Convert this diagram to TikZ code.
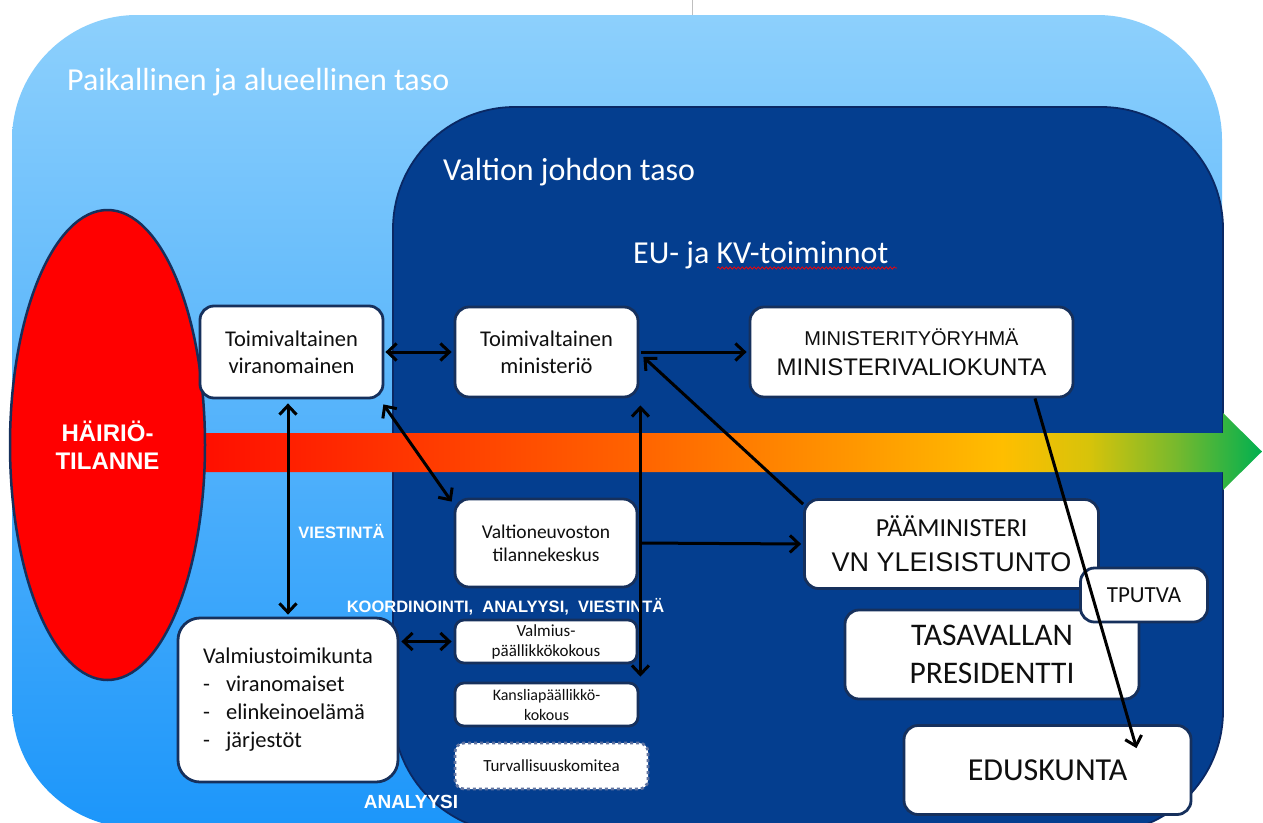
\documentclass[tikz,border=0pt]{standalone}
\usepackage{fontspec}
\setmainfont{Carlito}
\newfontfamily\arialf{Liberation Sans}
\usetikzlibrary{arrows.meta,decorations.pathmorphing,shapes.geometric}

\definecolor{lbtop}{RGB}{141,208,252}
\definecolor{lbmid}{RGB}{95,182,253}
\definecolor{lbbot}{RGB}{28,150,250}
\definecolor{dkblue}{RGB}{4,62,143}
\definecolor{dkedge}{RGB}{10,40,100}
\definecolor{boxedge}{RGB}{22,48,92}
\definecolor{txt}{RGB}{15,15,15}
\definecolor{ba}{RGB}{255,0,0}
\definecolor{bb}{RGB}{255,15,0}
\definecolor{bc}{RGB}{255,100,0}
\definecolor{bd}{RGB}{255,150,0}
\definecolor{be}{RGB}{255,190,0}
\definecolor{bf}{RGB}{215,195,10}
\definecolor{bg}{RGB}{120,185,45}
\definecolor{bh}{RGB}{0,176,80}
\pgfdeclarehorizontalshading{barshade}{100bp}{color(0bp)=(ba); color(25bp)=(ba); color(26.2bp)=(bb); color(46.3bp)=(bc); color(56bp)=(bd); color(63bp)=(be); color(67bp)=(bf); color(71bp)=(bg); color(75bp)=(bh); color(100bp)=(bh)}

\tikzset{
  box/.style={draw=boxedge, line width=2.8pt, fill=white, rounded corners=14pt,
    align=center, inner sep=0pt, text=txt},
  conn/.style={line width=3pt, draw=black,
    {Straight Barb[length=9pt,width=17pt]}-{Straight Barb[length=9pt,width=17pt]}},
  conn1/.style={line width=3pt, draw=black, -{Straight Barb[length=9pt,width=17pt]}},
  lab/.style={text=white, inner sep=0pt, anchor=base,
    font=\arialf\bfseries\fontsize{16.5pt}{19pt}\selectfont},
  ttl/.style={text=white, inner sep=0pt, anchor=base west,
    font=\fontsize{32pt}{38pt}\selectfont},
}

\begin{document}
\begin{tikzpicture}[x=1pt,y=-1pt]
\useasboundingbox (0,0) rectangle (1263,822);
\clip (0,0) rectangle (1263,822);
\fill[white] (0,0) rectangle (1263,822);
\draw[black!25, line width=0.8pt] (692,0) -- (692,15);

% outer level
\shade[top color=lbtop, middle color=lbmid, bottom color=lbbot, rounded corners=125pt]
  (12,15) rectangle (1222,828);
% inner level
\draw[fill=dkblue, draw=dkedge, line width=1.8pt, rounded corners=122pt]
  (393,107) rectangle (1223,833);

% titles
\node[ttl] (t1) at (67,90) {Paikallinen ja alueellinen taso};
\node[ttl] (t2) at (443,180) {Valtion johdon taso};
\node[ttl] (t3) at (633,263) {EU- ja KV-toiminnot};
\draw[red, line width=0.7pt, decorate, decoration={snake, amplitude=1.2pt, segment length=4pt}]
  (717,268) -- (897,268);

% big arrow
\shade[shading=barshade] (180,433) -- (1223,433) -- (1223,413) -- (1262,451.5)
  -- (1223,490) -- (1223,472) -- (180,472) -- cycle;

% ellipse
\node[ellipse, draw=boxedge, line width=2.5pt, fill=red, minimum width=195pt,
  minimum height=470pt, inner sep=0pt, text=white, align=center,
  font=\arialf\bfseries\fontsize{24pt}{28pt}\selectfont] (hairio) at (107.5,445) {HÄIRIÖ-\\TILANNE};

% boxes
\node[box, minimum width=183pt, minimum height=92pt, font=\fontsize{22.5pt}{27pt}\selectfont]
  (vir) at (291.5,352) {Toimivaltainen\\viranomainen};
\node[box, minimum width=183pt, minimum height=90pt, font=\fontsize{22.5pt}{27pt}\selectfont]
  (min) at (546.5,352) {Toimivaltainen\\ministeriö};
\node[box, minimum width=323pt, minimum height=90pt, font=\arialf\fontsize{24pt}{30pt}\selectfont]
  (mtr) at (911.5,352) {{\fontsize{20pt}{30pt}\selectfont MINISTERITYÖRYHMÄ}\\MINISTERIVALIOKUNTA};
\node[box, minimum width=182pt, minimum height=88pt, font=\fontsize{19.5pt}{23pt}\selectfont]
  (tk) at (546,543) {Valtioneuvoston\\tilannekeskus};
\node[box, minimum width=294pt, minimum height=89pt, font=\fontsize{26pt}{35pt}\selectfont]
  (pm) at (951.5,544) {PÄÄMINISTERI\\{\arialf\fontsize{27pt}{35pt}\selectfont VN YLEISISTUNTO}};
\node[box, minimum width=294pt, minimum height=89pt, font=\fontsize{31.5pt}{38pt}\selectfont]
  (tp) at (992,654.5) {TASAVALLAN\\PRESIDENTTI};
\node[box, minimum width=287pt, minimum height=89pt, font=\fontsize{32pt}{38pt}\selectfont]
  (edu) at (1047.5,770) {EDUSKUNTA};
\node[box, minimum width=127pt, minimum height=54pt, font=\fontsize{23pt}{27pt}\selectfont]
  (tputva) at (1144,595) {TPUTVA};
\node[box, align=left, minimum width=220pt, minimum height=164pt, rounded corners=22pt,
  font=\fontsize{22.5pt}{28pt}\selectfont]
  (vtk) at (288,700) {Valmiustoimikunta\\\makebox[23pt][l]{-}viranomaiset\\\makebox[23pt][l]{-}elinkeinoelämä\\\makebox[23pt][l]{-}järjestöt};
\node[box, minimum width=182pt, minimum height=43pt, rounded corners=9pt, font=\fontsize{17pt}{20pt}\selectfont]
  (vpk) at (546,641.5) {Valmius-\\päällikkökokous};
\node[box, minimum width=183pt, minimum height=43pt, rounded corners=9pt, font=\fontsize{16pt}{20pt}\selectfont]
  (kpk) at (546.5,704.5) {Kansliapäällikkö-\\kokous};
\node[box, draw={rgb,255:red,95;green,115;blue,160}, dash pattern=on 3pt off 3pt,
  minimum width=193pt, minimum height=46pt, rounded corners=9pt, font=\fontsize{17pt}{20pt}\selectfont]
  (turv) at (551.5,766) {Turvallisuuskomitea};

% labels
\node[lab] (l1) at (341.5,538) {VIESTINTÄ};
\node[lab] (l2) at (505.5,612) {KOORDINOINTI,\ \ ANALYYSI,\ \ VIESTINTÄ};
\node[lab, font=\arialf\bfseries\fontsize{19pt}{22pt}\selectfont] (l3) at (411,808) {ANALYYSI};

% connectors
\draw[conn, shorten <=1pt, shorten >=2pt] (vir.east) -- (min.west);
\draw[conn] ([shift={(-1,5)}]vir.south east) -- ([shift={(-2,4)}]tk.north west);
\draw[conn, shorten <=4pt, shorten >=2pt] (vtk.north |- vir.south) -- (vtk.north);
\draw[conn, shorten <=7pt, shorten >=5pt] ([xshift=1pt]min.south east) -- ([xshift=1pt]min.south east |- kpk.north);
\draw[conn1, shorten <=2pt, shorten >=2pt] (min.east) -- (mtr.west);
\draw[conn1] ([shift={(0,6)}]pm.north west) -- ([shift={(4,5)}]min.east);
\draw[conn1, shorten <=3pt, shorten >=2pt] (tk.east) -- (pm.west);
\draw[conn, shorten <=2pt, shorten >=2pt] (vtk.east |- vpk.west) -- (vpk.west);
\draw[conn1] ([xshift=123.5pt]mtr.south) -- ([shift={(89,24)}]edu.north);
\end{tikzpicture}
\end{document}
